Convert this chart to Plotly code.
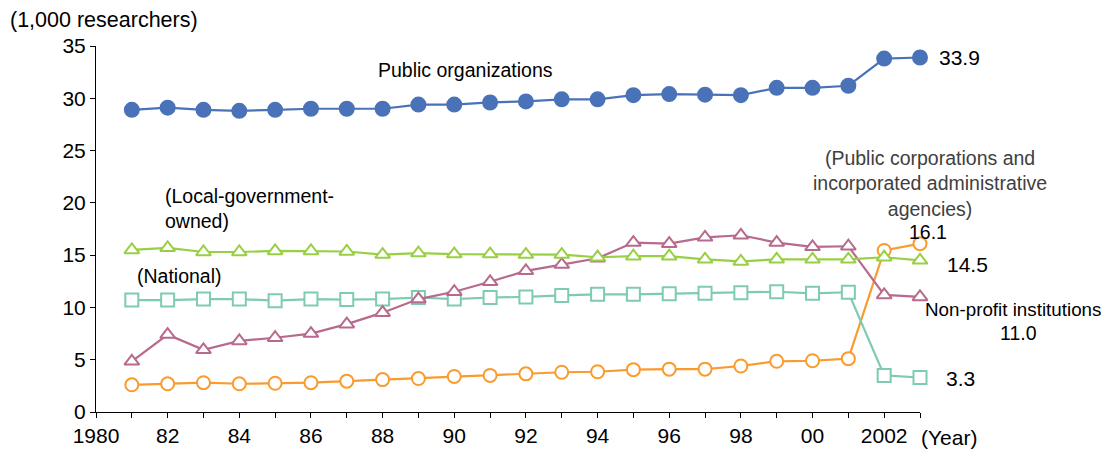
import plotly.graph_objects as go

years = list(range(1981, 2004))

public_orgs = [28.9, 29.1, 28.9, 28.8, 28.9, 29.0, 29.0, 29.0, 29.4, 29.4, 29.6, 29.7,
               29.9, 29.9, 30.3, 30.4, 30.35, 30.3, 31.0, 31.0, 31.2, 33.8, 33.9]
local_gov = [15.5, 15.7, 15.3, 15.3, 15.4, 15.4, 15.35, 15.05, 15.2, 15.1, 15.1, 15.05,
             15.05, 14.8, 14.9, 14.9, 14.6, 14.4, 14.6, 14.6, 14.6, 14.8, 14.5]
national = [10.7, 10.7, 10.8, 10.8, 10.65, 10.8, 10.75, 10.8, 10.95, 10.8, 10.95, 11.0,
            11.15, 11.25, 11.25, 11.3, 11.35, 11.4, 11.5, 11.35, 11.45, 3.5, 3.3]
non_profit = [4.85, 7.4, 5.95, 6.8, 7.1, 7.5, 8.4, 9.5, 10.8, 11.5, 12.45, 13.5,
              14.1, 14.7, 16.2, 16.1, 16.7, 16.9, 16.2, 15.8, 15.85, 11.2, 11.0]
public_corp = [2.6, 2.7, 2.8, 2.7, 2.75, 2.8, 2.95, 3.1, 3.2, 3.4, 3.5, 3.65,
               3.8, 3.85, 4.05, 4.1, 4.1, 4.4, 4.85, 4.9, 5.1, 15.45, 16.1]

tick_years = list(range(1980, 2004))
tick_text = ["1980", "", "82", "", "84", "", "86", "", "88", "", "90", "", "92", "",
             "94", "", "96", "", "98", "", "00", "", "2002", ""]

X0, X1 = 1980, 2003
Y0, Y1 = 0, 35

FONT = "Liberation Sans, Arial, sans-serif"
TXT = 19.5
NUM = 21

fig = go.Figure()

def add(y, color, symbol, filled):
    fig.add_trace(go.Scatter(
        x=years, y=y, mode="lines+markers", cliponaxis=False,
        line=dict(color=color, width=2.2),
        marker=dict(symbol=symbol, size=14 if filled else 13,
                    color=color if filled else "white",
                    line=dict(color=color, width=2)),
        showlegend=False, hoverinfo="x+y"))

add(public_corp, "#F99B2F", "circle", False)
add(national, "#7ECBB0", "square", False)
add(non_profit, "#B86A8E", "triangle-up", False)
add(local_gov, "#99CF45", "triangle-up", False)
add(public_orgs, "#4A72B8", "circle", True)

def ann(text, x, y, xanchor="left", size=TXT, color="black", align="left"):
    # positions given in data units, converted to paper so labels outside the
    # axis range are still drawn
    return dict(text=text, x=(x - X0) / (X1 - X0), y=(y - Y0) / (Y1 - Y0),
                xref="paper", yref="paper", xanchor=xanchor,
                yanchor="middle", align=align, showarrow=False,
                font=dict(size=size, color=color))

annotations = [
    dict(text="(1,000 researchers)", x=-0.107, y=1.072, xref="paper", yref="paper",
         xanchor="left", yanchor="middle", showarrow=False, font=dict(size=21.5)),
    ann("Public organizations", 1990.3, 32.72, xanchor="center"),
    ann("33.9", 2003.47, 33.86, size=NUM),
    ann("(Local-government-<br>owned)", 1981.87, 19.45),
    ann("(National)", 1981.09, 12.99),
    ann("(Public corporations and<br>incorporated administrative<br>agencies)",
        2003.28, 21.82, xanchor="center", align="center", color="#404040"),
    ann("16.1", 2003.22, 17.26, xanchor="center"),
    ann("14.5", 2003.70, 14.07, size=NUM),
    ann("Non-profit institutions", 2003.08, 9.80, size=18.8),
    ann("11.0", 2005.74, 7.59, xanchor="center"),
    ann("3.3", 2003.67, 3.22, size=NUM),
    ann("(Year)", 2002.97, -2.47, size=NUM),
]

fig.update_layout(
    width=1104, height=451,
    margin=dict(l=88, r=192, t=38, b=44),
    paper_bgcolor="white", plot_bgcolor="white",
    font=dict(family=FONT, size=NUM, color="black"),
    annotations=annotations,
    xaxis=dict(range=[X0, X1], tickmode="array", tickvals=tick_years,
               ticktext=tick_text, ticks="outside", ticklen=5, tickcolor="black",
               showline=True, linecolor="black", linewidth=1, showgrid=False,
               zeroline=False, tickfont=dict(size=NUM)),
    yaxis=dict(range=[Y0, Y1], dtick=5, ticks="outside", ticklen=5, tickcolor="black",
               showline=True, linecolor="black", linewidth=1, showgrid=False,
               zeroline=False, tickfont=dict(size=NUM)),
)

fig.write_html("out.html")
